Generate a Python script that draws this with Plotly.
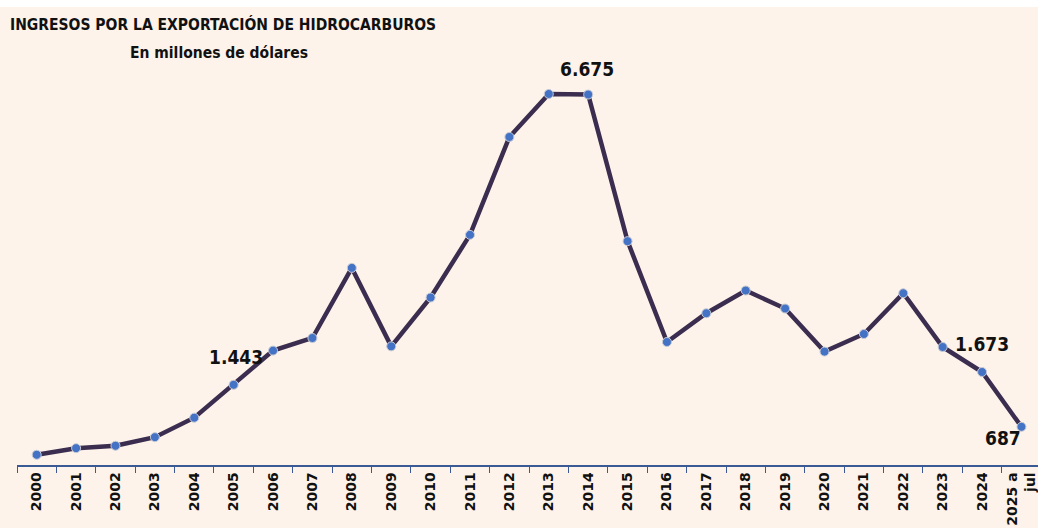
import plotly.graph_objects as go

years = ["2000", "2001", "2002", "2003", "2004", "2005", "2006", "2007", "2008",
         "2009", "2010", "2011", "2012", "2013", "2014", "2015", "2016", "2017",
         "2018", "2019", "2020", "2021", "2022", "2023", "2024", "2025 a<br>jul"]
values = [184, 303, 346, 501, 851, 1443, 2058, 2285, 3546, 2135, 3013, 4141, 5902,
          6675, 6665, 4027, 2213, 2730, 3139, 2815, 2040, 2357, 3090, 2123, 1673, 687]

title_text = "INGRESOS POR LA EXPORTACIÓN DE HIDROCARBUROS"
subtitle_text = "En millones de dólares"

OFFY = 7  # white strip above the figure on the page
W, H = 1038, 521
ML, MR, MT, MB = 17, 0, 7, 63
PW = W - ML - MR
PH = H - MT - MB

def px_x(px):
    return (px - ML) / PW

def px_y(py):
    return (H - MB - (py - OFFY)) / PH

NARROW = "DejaVu Sans Condensed, Liberation Sans Narrow, sans-serif"
BG = "#FDF3EA"

fig = go.Figure()
fig.add_trace(go.Scatter(
    x=years, y=values, mode="lines+markers",
    line=dict(color="#3B2D4F", width=4.5),
    marker=dict(color="#4472C4", size=9, line=dict(color="#C9CCD6", width=1)),
    hoverinfo="x+y", showlegend=False,
))

labels = [(13, "6.675", 38, 25), (5, "1.443", 2, 28), (24, "1.673", 0, 28), (25, "687", -18, -11)]
for idx, txt, xs, ys in labels:
    fig.add_annotation(x=idx, y=values[idx], text="<b>" + txt + "</b>", showarrow=False,
                       xshift=xs, yshift=ys,
                       font=dict(family=NARROW, size=19, color="#111111"))

fig.add_annotation(xref="paper", yref="paper", x=px_x(8), y=px_y(24), xanchor="left",
                   yanchor="middle", text="<b>" + title_text + "</b>", showarrow=False,
                   font=dict(family=NARROW, size=15.5, color="#111111"))
fig.add_annotation(xref="paper", yref="paper", x=px_x(219), y=px_y(53), xanchor="center",
                   yanchor="middle", text="<b>" + subtitle_text + "</b>", showarrow=False,
                   font=dict(family=NARROW, size=15.5, color="#111111"))

fig.update_layout(
    width=W, height=H,
    margin=dict(l=ML, r=MR, t=MT, b=MB, autoexpand=False),
    paper_bgcolor=BG, plot_bgcolor=BG,
    xaxis=dict(type="category", range=[-0.5, 25.42], tickson="boundaries", automargin=False,
               ticks="outside", ticklen=6, tickcolor="#3A5A95", tickwidth=1.3,
               showline=True, linecolor="#3A5A95", linewidth=1.5,
               showgrid=False, zeroline=False, tickangle=-90,
               tickfont=dict(family="DejaVu Sans", size=14, color="#111111", weight="bold")),
    yaxis=dict(range=[0, 8114], visible=False, showgrid=False, zeroline=False, automargin=False),
)

fig.write_html("out.html",
               post_script="document.body.style.margin='%dpx 0 0 0';document.body.style.background='#ffffff';" % OFFY)
